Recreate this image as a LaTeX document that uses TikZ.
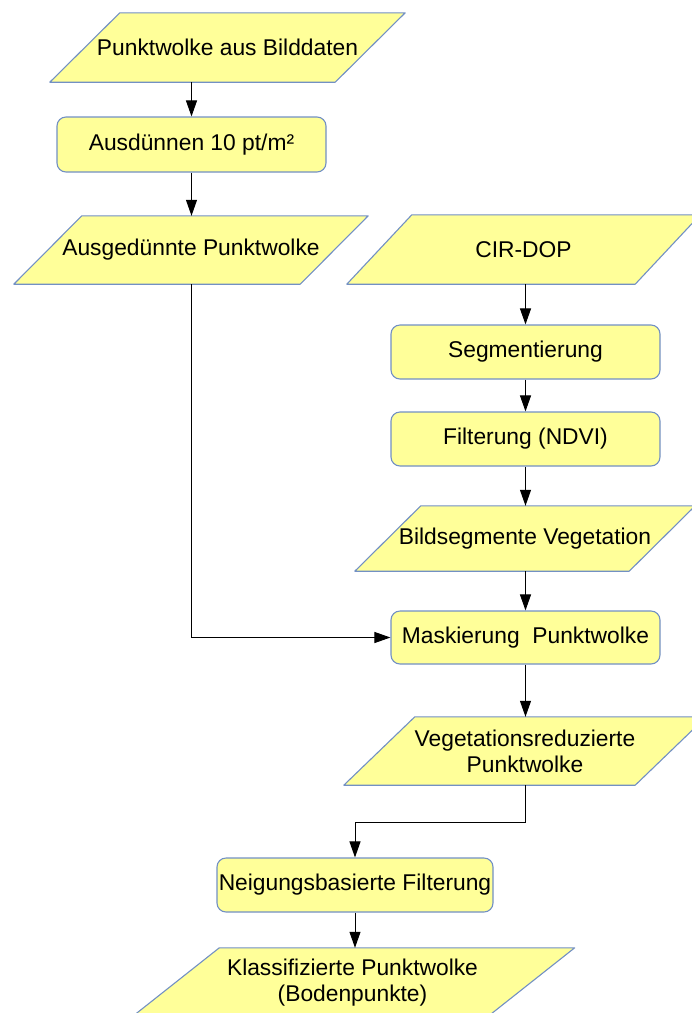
\documentclass[tikz,border=0pt]{standalone}
\usepackage{fontspec}
\setmainfont{Liberation Sans}
\usepackage{tikz}
\usetikzlibrary{arrows.meta,backgrounds}
\definecolor{boxfill}{RGB}{255,255,153}
\definecolor{boxline}{RGB}{114,144,196}
% parallelogram round a data node: #1 node name, #2 half the slant
\newcommand{\dataframe}[2]{\draw [dataline] ([xshift=-#2]#1.south west) -- ([xshift=-#2]#1.south east) -- ([xshift=#2]#1.north east) -- ([xshift=#2]#1.north west) -- cycle;}
\tikzset{
  databox/.style={rectangle, inner sep=0pt, align=center},
  dataline/.style={draw=boxline, fill=boxfill, line width=1.1pt, line join=round},
  procbox/.style={rectangle, rounded corners=9pt, draw=boxline, fill=boxfill,
    line width=1.1pt, inner sep=0pt, minimum width=269pt, align=center},
  arr/.style={-{Triangle[width=11pt,length=16pt]}, line width=1pt}
}

\begin{document}
\begin{tikzpicture}[x=1pt, y=-1pt, font=\fontsize{22.8}{26}\selectfont]
	  \useasboundingbox (0,0) rectangle (692,1013);
	  % left column
	  \node [databox, minimum width=285pt, minimum height=69pt] (src) at (227.5,47.5) {Punktwolke aus Bilddaten};
	  \node [procbox, minimum height=55pt] (thin) at (191.5,144.5) {Ausdünnen 10 pt/m²};
	  \node [databox, minimum width=286pt, minimum height=68pt] (thinned) at (191,250) {Ausgedünnte Punktwolke};
	  % right column
	  \node [databox, minimum width=288pt, minimum height=69pt] (cir) at (523.5,249.5) {CIR-DOP};
	  \node [procbox, minimum height=54pt] (segm) at (525.5,352) {Segmentierung};
	  \node [procbox, minimum height=54pt] (filt) at (525.5,439) {Filterung (NDVI)};
	  \node [databox, minimum width=274pt, minimum height=65pt] (vegseg) at (525,538.5) {Bildsegmente Vegetation};
	  \node [procbox, minimum height=53pt] (mask) at (525.5,637.5) {Maskierung\ \ Punktwolke};
	  \node [databox, minimum width=291pt, minimum height=68pt] (vegred) at (525,751) {Vegetationsreduzierte\\ Punktwolke};
	  % bottom
	  \node [procbox, minimum width=276pt, minimum height=54pt] (neig) at (355,885) {Neigungsbasierte Filterung};
	  \node [databox, minimum width=355pt, minimum height=70pt] (result) at (352.5,983) {Klassifizierte Punktwolke\\ (Bodenpunkte)};
	  \begin{scope}[on background layer]
	    \dataframe{src}{35pt}
	    \dataframe{thinned}{34pt}
	    \dataframe{cir}{32.5pt}
	    \dataframe{vegseg}{33pt}
	    \dataframe{vegred}{35.5pt}
	    \dataframe{result}{44.5pt}
	  \end{scope}
	  % Connectors
	  \draw [arr] (thin.north |- src.south) -- (thin.north);
	  \draw [arr] (thin.south) -- (thin.south |- thinned.north);
	  \draw [arr] (segm.north |- cir.south) -- (segm.north);
	  \draw [arr] (segm.south) -- (filt.north);
	  \draw [arr] (filt.south) -- (filt.south |- vegseg.north);
	  \draw [arr] (mask.north |- vegseg.south) -- (mask.north);
	  \draw [arr] (thinned.south) |- (mask.west);
	  \draw [arr] (mask.south) -- (mask.south |- vegred.north);
	  \draw [arr] (vegred.south) -- ++(0,37) -| (neig.north);
	  \draw [arr] (neig.south) -- (neig.south |- result.north);
	 \end{tikzpicture}
\end{document}
